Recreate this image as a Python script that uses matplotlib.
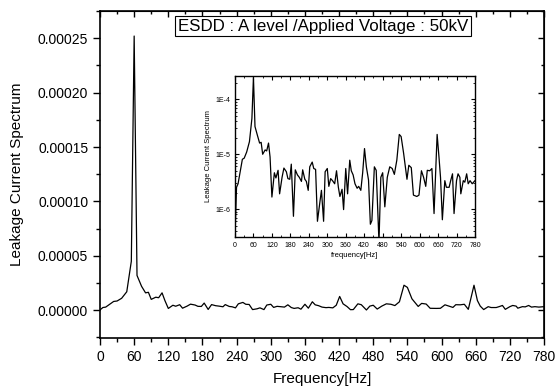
import matplotlib
matplotlib.use("Agg")
import matplotlib.pyplot as plt
from matplotlib.ticker import MultipleLocator, FormatStrFormatter, LogLocator, FixedLocator, FixedFormatter, NullFormatter

plt.rcParams['font.family'] = ['Liberation Sans', 'DejaVu Sans']

freq = [0, 5, 10, 24, 30, 38, 47, 55, 60, 65, 73, 80, 85, 90, 98, 103, 109, 114,
        120, 128, 133, 140, 145, 153, 159, 167, 172, 178, 183, 190, 196, 203, 209,
        216, 220, 227, 232, 238, 243, 251, 256, 262, 268, 276, 281, 288, 293, 300,
        305, 311, 317, 324, 330, 336, 341, 348, 353, 360, 366, 373, 378, 384, 390,
        397, 402, 409, 415, 421, 427, 434, 440, 445, 453, 459, 468, 474, 480, 487,
        495, 503, 511, 518, 526, 534, 540, 548, 559, 565, 573, 580, 591, 598, 606,
        613, 620, 625, 633, 640, 647, 657, 663, 668, 674, 682, 687, 696, 701, 707,
        712, 720, 725, 731, 734, 742, 747, 753, 758, 764, 771, 780]
spectrum = [3.0e-7, 2.5e-6, 2.9e-6, 8.1e-6, 8.5e-6, 1.1e-5, 1.7e-5, 4.5e-5, 2.52e-4,
            3.2e-5, 2.2e-5, 1.6e-5, 1.65e-5, 1.0e-5, 1.2e-5, 1.15e-5, 1.6e-5, 8.9e-6,
            1.66e-6, 4.6e-6, 3.7e-6, 5.1e-6, 1.9e-6, 3.8e-6, 5.6e-6, 4.8e-6, 3.6e-6,
            3.5e-6, 6.6e-6, 7.4e-7, 5.2e-6, 4.2e-6, 3.8e-6, 3.2e-6, 5.2e-6, 3.5e-6,
            3.2e-6, 2.2e-6, 5.9e-6, 7.2e-6, 5.5e-6, 5.3e-6, 6.0e-7, 1.35e-6, 2.2e-6,
            6.0e-7, 4.8e-6, 5.5e-6, 2.6e-6, 3.6e-6, 3.3e-6, 2.9e-6, 5.0e-6, 2.5e-6,
            1.7e-6, 2.3e-6, 9.8e-7, 5.5e-6, 1.9e-6, 7.8e-6, 5.0e-6, 4.2e-6, 2.9e-6,
            2.4e-6, 2.6e-6, 2.2e-6, 4.6e-6, 1.27e-5, 5.9e-6, 3.4e-6, 5.3e-7, 6.2e-7,
            5.9e-6, 5.1e-6, 2.5e-7, 3.8e-6, 4.6e-6, 1.1e-6, 3.8e-6, 5.9e-6, 5.5e-6,
            4.3e-6, 7.8e-6, 2.3e-5, 2.1e-5, 1.05e-5, 3.5e-6, 6.3e-6, 5.7e-6, 1.8e-6,
            1.7e-6, 1.8e-6, 5.0e-6, 3.8e-6, 2.6e-6, 5.1e-6, 5.0e-6, 5.5e-6, 8.3e-7,
            2.3e-5, 8.9e-6, 3.8e-6, 6.4e-7, 3.3e-6, 2.5e-6, 2.5e-6, 3.3e-6, 4.4e-6,
            8.3e-7, 3.3e-6, 4.4e-6, 3.8e-6, 1.9e-6, 3.3e-6, 3.1e-6, 4.4e-6, 2.9e-6,
            3.3e-6, 2.9e-6, 3.3e-6]

inset_yticks = [1e-6, 1e-5, 1e-4]
inset_ylabels = ['1E-6', '1E-5', '1E-4']
title_text = 'ESDD : A level /Applied Voltage : 50kV'

fig = plt.figure(figsize=(5.55, 3.89), dpi=100)
ax = fig.add_axes([0.1802, 0.1311, 0.8, 0.8406])
ax.plot(freq, spectrum, color='black', lw=0.9)
ax.set_xlim(0, 780)
ax.set_ylim(-0.0000255, 0.000275)
ax.xaxis.set_major_locator(MultipleLocator(60))
ax.xaxis.set_minor_locator(MultipleLocator(30))
ax.yaxis.set_major_locator(MultipleLocator(0.00005))
ax.yaxis.set_minor_locator(MultipleLocator(0.000025))
ax.yaxis.set_major_formatter(FormatStrFormatter('%.5f'))
ax.tick_params(axis='both', which='major', labelsize=10, length=5, width=1, direction='out')
ax.tick_params(axis='both', which='minor', length=3, width=1, direction='out')
for spine in ax.spines.values():
    spine.set_linewidth(1.2)
ax.set_xlabel('Frequency[Hz]', fontsize=11, labelpad=6)
ax.set_ylabel('Leakage Current Spectrum', fontsize=11, labelpad=10)

secx = ax.secondary_xaxis('top')
secx.xaxis.set_major_locator(MultipleLocator(60))
secx.xaxis.set_minor_locator(MultipleLocator(30))
secx.tick_params(which='major', direction='in', length=4, width=1, labeltop=False)
secx.tick_params(which='minor', direction='in', length=2.5, width=1)
secy = ax.secondary_yaxis('right')
secy.yaxis.set_major_locator(MultipleLocator(0.00005))
secy.yaxis.set_minor_locator(MultipleLocator(0.000025))
secy.tick_params(which='major', direction='in', length=4, width=1, labelright=False)
secy.tick_params(which='minor', direction='in', length=2.5, width=1)

ax.text(0.502, 0.954, title_text, transform=ax.transAxes, ha='center', va='center',
        fontsize=12.2, bbox=dict(boxstyle='square,pad=0.15', fc='white', ec='black', lw=0.8))

ins = fig.add_axes([0.4234, 0.3907, 0.4324, 0.4139])
ins.semilogy(freq, spectrum, color='black', lw=0.9)
ins.set_xlim(0, 780)
ins.set_ylim(3.1e-7, 2.67e-4)
ins.xaxis.set_major_locator(MultipleLocator(60))
ins.xaxis.set_minor_locator(MultipleLocator(30))
ins.yaxis.set_major_locator(FixedLocator(inset_yticks))
ins.yaxis.set_major_formatter(FixedFormatter(inset_ylabels))
ins.yaxis.set_minor_locator(LogLocator(base=10, subs=range(2, 10)))
ins.yaxis.set_minor_formatter(NullFormatter())
ins.tick_params(axis='both', which='major', labelsize=5, length=3, width=0.8, direction='in',
                top=True, right=True)
ins.tick_params(axis='both', which='minor', length=1.5, width=0.6, direction='in',
                top=True, right=True)
for spine in ins.spines.values():
    spine.set_linewidth(1.0)
ins.set_xlabel('frequency[Hz]', fontsize=5.5, labelpad=2)
ins.set_ylabel('Leakage Current Spectrum', fontsize=5.5, labelpad=2)

fig.savefig('out.png', dpi=100)
